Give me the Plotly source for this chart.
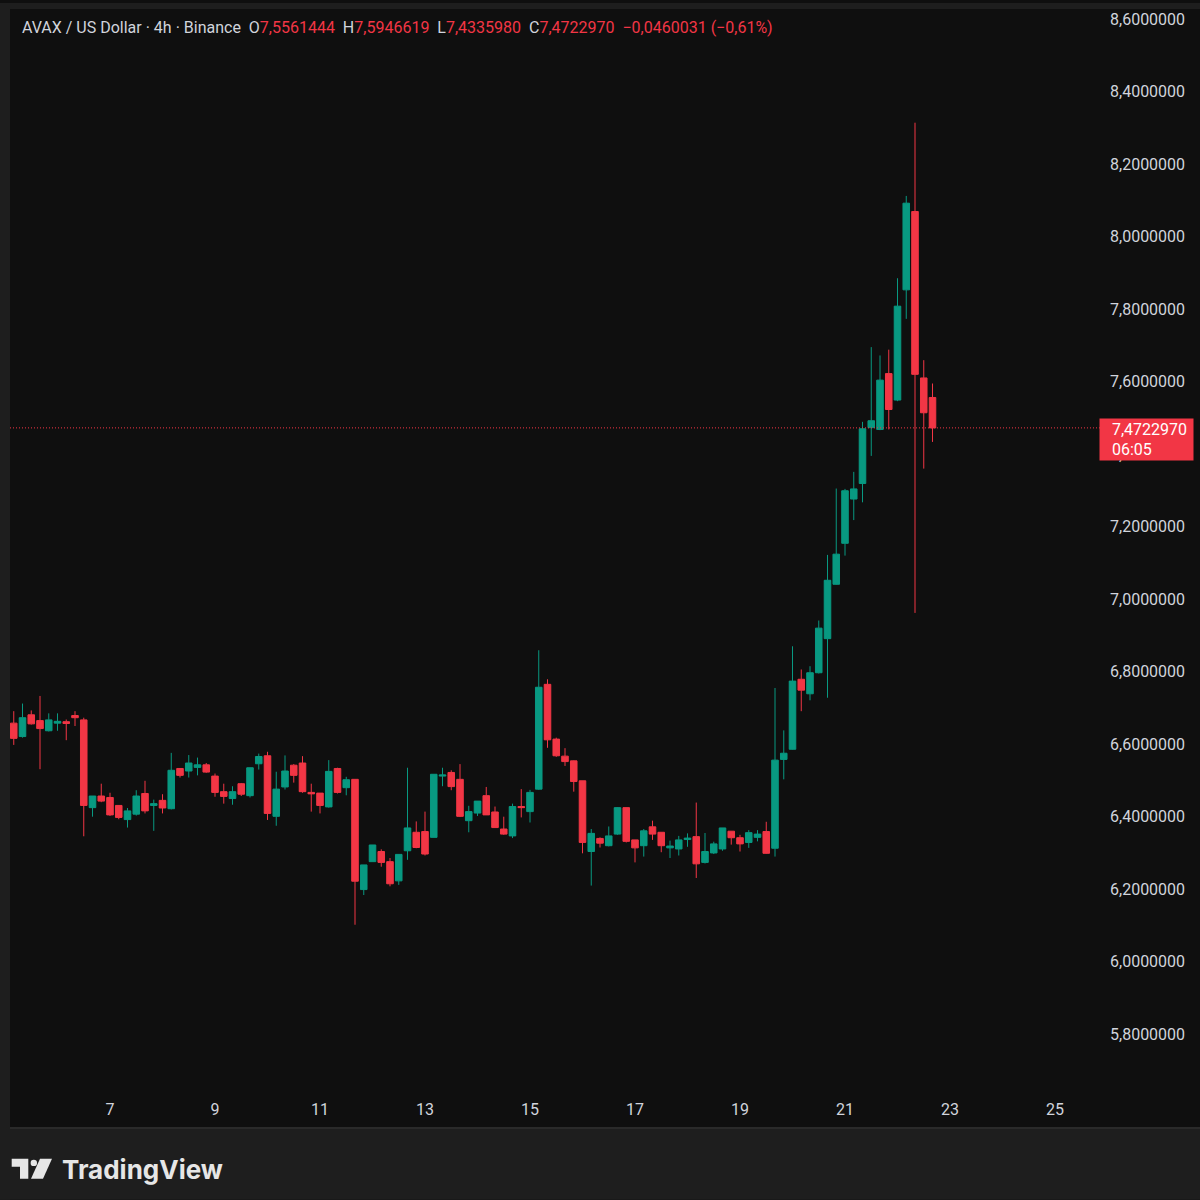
import plotly.graph_objects as go

# AVAX / USD, 4h candles (day-of-month scale)
opens = [6.658, 6.621, 6.681, 6.665, 6.637, 6.658, 6.662, 6.679, 6.667, 6.425,
         6.457, 6.453, 6.431, 6.392, 6.407, 6.464, 6.431, 6.445, 6.422, 6.533,
         6.526, 6.536, 6.543, 6.512, 6.469, 6.450, 6.491, 6.458, 6.546, 6.568,
         6.401, 6.482, 6.542, 6.548, 6.467, 6.465, 6.427, 6.533, 6.480, 6.503,
         6.199, 6.276, 6.304, 6.276, 6.223, 6.306, 6.357, 6.359, 6.343, 6.512,
         6.522, 6.503, 6.389, 6.410, 6.458, 6.413, 6.366, 6.347, 6.428, 6.414,
         6.476, 6.765, 6.614, 6.567, 6.554, 6.499, 6.304, 6.340, 6.320, 6.352,
         6.425, 6.336, 6.320, 6.372, 6.357, 6.314, 6.311, 6.337, 6.345, 6.274,
         6.300, 6.311, 6.360, 6.342, 6.329, 6.343, 6.359, 6.313, 6.558, 6.586,
         6.779, 6.739, 6.797, 6.891, 7.041, 7.154, 7.276, 7.319, 7.473, 7.468,
         7.622, 7.549, 7.853, 8.069, 7.610, 7.5561444]
highs = [6.691, 6.712, 6.693, 6.733, 6.685, 6.685, 6.668, 6.691, 6.673, 6.457,
         6.491, 6.466, 6.431, 6.424, 6.473, 6.499, 6.447, 6.462, 6.576, 6.533,
         6.570, 6.563, 6.548, 6.519, 6.491, 6.484, 6.493, 6.535, 6.574, 6.579,
         6.524, 6.569, 6.545, 6.567, 6.491, 6.465, 6.556, 6.535, 6.510, 6.503,
         6.267, 6.322, 6.310, 6.286, 6.296, 6.535, 6.387, 6.414, 6.517, 6.535,
         6.528, 6.545, 6.430, 6.443, 6.482, 6.428, 6.400, 6.436, 6.476, 6.474,
         6.859, 6.779, 6.618, 6.589, 6.555, 6.499, 6.366, 6.343, 6.373, 6.426,
         6.425, 6.336, 6.366, 6.389, 6.357, 6.334, 6.347, 6.354, 6.439, 6.355,
         6.331, 6.369, 6.360, 6.350, 6.363, 6.363, 6.386, 6.755, 6.638, 6.870,
         6.806, 6.815, 6.941, 7.122, 7.305, 7.304, 7.351, 7.489, 7.695, 7.672,
         7.688, 7.885, 8.112, 8.314, 7.659, 7.5946619]
lows = [6.598, 6.618, 6.654, 6.531, 6.635, 6.637, 6.611, 6.650, 6.346, 6.400,
        6.440, 6.402, 6.393, 6.370, 6.403, 6.409, 6.361, 6.409, 6.420, 6.508,
        6.508, 6.514, 6.521, 6.455, 6.436, 6.433, 6.457, 6.453, 6.530, 6.391,
        6.375, 6.475, 6.494, 6.466, 6.414, 6.409, 6.425, 6.464, 6.459, 6.102,
        6.184, 6.276, 6.262, 6.208, 6.212, 6.281, 6.313, 6.293, 6.343, 6.484,
        6.473, 6.399, 6.357, 6.402, 6.405, 6.370, 6.350, 6.341, 6.398, 6.384,
        6.474, 6.590, 6.565, 6.540, 6.469, 6.299, 6.210, 6.315, 6.318, 6.350,
        6.329, 6.274, 6.290, 6.336, 6.302, 6.286, 6.293, 6.317, 6.231, 6.271,
        6.297, 6.306, 6.323, 6.304, 6.314, 6.332, 6.298, 6.290, 6.503, 6.585,
        6.691, 6.721, 6.795, 6.728, 7.040, 7.120, 7.218, 7.267, 7.395, 7.466,
        7.468, 7.546, 7.773, 6.962, 7.360, 7.4335980]
closes = [6.616, 6.673, 6.656, 6.643, 6.667, 6.663, 6.657, 6.673, 6.431, 6.457,
          6.443, 6.405, 6.398, 6.416, 6.457, 6.416, 6.436, 6.424, 6.528, 6.514,
          6.548, 6.543, 6.523, 6.467, 6.456, 6.469, 6.462, 6.535, 6.566, 6.409,
          6.476, 6.526, 6.514, 6.469, 6.463, 6.431, 6.525, 6.467, 6.502, 6.222,
          6.267, 6.322, 6.274, 6.215, 6.296, 6.369, 6.315, 6.297, 6.517, 6.515,
          6.483, 6.401, 6.414, 6.443, 6.405, 6.370, 6.352, 6.428, 6.425, 6.467,
          6.757, 6.612, 6.568, 6.552, 6.497, 6.329, 6.354, 6.327, 6.347, 6.425,
          6.332, 6.314, 6.361, 6.352, 6.320, 6.319, 6.336, 6.341, 6.270, 6.304,
          6.325, 6.369, 6.342, 6.325, 6.356, 6.352, 6.299, 6.556, 6.575, 6.774,
          6.749, 6.797, 6.920, 7.052, 7.124, 7.299, 7.304, 7.470, 7.492, 7.604,
          7.523, 7.808, 8.092, 7.620, 7.514, 7.4722970]

# bar open times in days (first bar: day 5, 04:00, then every 4 hours)
first_bar = 5 + 4 / 24
times = [first_bar + i * 4 / 24 for i in range(len(opens))]

day_ticks = [7, 9, 11, 13, 15, 17, 19, 21, 23, 25]
price_ticks = [5.8, 6.0, 6.2, 6.4, 6.6, 6.8, 7.0, 7.2, 7.4, 7.6, 7.8, 8.0, 8.2, 8.4, 8.6]

last_change = -0.0460031
last_change_pct = -0.61
countdown = "06:05"

UP = "#089981"
DOWN = "#f23645"
TXT = "#d1d4dc"
BG = "#0f0f0f"
FRAME = "#1e1e1e"
FONT = "Roboto"


# pixel -> paper helpers (plot area: x 10..1090, y 10..1095)
def px(x):
    return (x - 10) / 1080


def py(y):
    return (1095 - y) / 1085


def fmt(v):
    return f"{v:.7f}".replace(".", ",").replace("-", "\u2212")


fig = go.Figure(go.Candlestick(
    x=times, open=opens, high=highs, low=lows, close=closes,
    increasing=dict(line=dict(color=UP, width=1), fillcolor=UP),
    decreasing=dict(line=dict(color=DOWN, width=1), fillcolor=DOWN),
    whiskerwidth=0, hoverinfo="skip",
))

# frame around the chart panel + logo
shapes = [
    dict(type="rect", xref="paper", yref="paper", x0=px(0), x1=px(10), y0=py(1200), y1=py(0),
         fillcolor=FRAME, line_width=0),
    dict(type="rect", xref="paper", yref="paper", x0=px(0), x1=px(1200), y0=py(6), y1=py(0),
         fillcolor=FRAME, line_width=0),
    dict(type="rect", xref="paper", yref="paper", x0=px(0), x1=px(1200), y0=py(1200), y1=py(1128),
         fillcolor=FRAME, line_width=0),
    dict(type="line", xref="paper", yref="paper", x0=px(10), x1=px(1200), y0=py(1128), y1=py(1128),
         line=dict(color="#2a2a2a", width=2)),
    # price line
    dict(type="line", xref="paper", yref="y", x0=0, x1=px(1100),
         y0=closes[-1], y1=closes[-1], line=dict(color=DOWN, width=1, dash="1px,2px")),
    # TradingView mark
    dict(type="path", xref="paper", yref="paper", fillcolor="#e6e6e6", line_width=0,
         path=f"M{px(11.7)},{py(1159)} L{px(28.3)},{py(1159)} L{px(28.3)},{py(1179)} "
              f"L{px(20)},{py(1179)} L{px(20)},{py(1167)} L{px(11.7)},{py(1167)} Z"),
    dict(type="circle", xref="paper", yref="paper", fillcolor="#e6e6e6", line_width=0,
         x0=px(30.6), x1=px(37), y0=py(1166.3), y1=py(1159.9)),
    dict(type="path", xref="paper", yref="paper", fillcolor="#e6e6e6", line_width=0,
         path=f"M{px(40)},{py(1159)} L{px(52)},{py(1159)} L{px(43)},{py(1179)} "
              f"L{px(31)},{py(1179)} Z"),
]

sep = "\u00a0\u00a0"
red = lambda s: f"<span style='color:{DOWN}'>{s}</span>"
header = (
    f"AVAX / US Dollar \u00b7 4h \u00b7 Binance{sep}"
    f"O{red(fmt(opens[-1]))}{sep}H{red(fmt(highs[-1]))}{sep}"
    f"L{red(fmt(lows[-1]))}{sep}C{red(fmt(closes[-1]))}{sep}"
    + red(f"{fmt(last_change)} ({last_change_pct:.2f}%)".replace(".", ",").replace("-", "\u2212"))
)

annotations = [
    dict(xref="paper", yref="paper", x=px(20), y=py(25), xanchor="left", yanchor="middle",
         text=header, showarrow=False, font=dict(family=FONT, size=16, color=TXT)),
    dict(xref="paper", yref="paper", x=px(1099), y=py(416), xanchor="left", yanchor="top",
         text=f"\u00a0\u00a0\u00a0{fmt(closes[-1])}<br>\u00a0\u00a0\u00a0{countdown}",
         showarrow=False, align="left", valign="middle",
         bgcolor=DOWN, borderpad=0, width=93, height=41,
         font=dict(family=FONT, size=16, color="#ffffff")),
    dict(xref="paper", yref="paper", x=px(60), y=py(1170), xanchor="left", yanchor="middle",
         text="<b>TradingView</b>", showarrow=False,
         font=dict(family="Inter", size=26, color="#e6e6e6")),
]

fig.update_layout(
    width=1200, height=1200,
    margin=dict(l=10, r=110, t=10, b=105),
    paper_bgcolor=BG, plot_bgcolor=BG,
    separators=", ",
    showlegend=False,
    boxgap=0.25, boxgroupgap=0,
    shapes=shapes, annotations=annotations,
    xaxis=dict(range=[7 - 100 / 52.5, 7 + 980 / 52.5], rangeslider=dict(visible=False),
               tickvals=day_ticks, ticktext=[str(d) for d in day_ticks],
               showgrid=False, zeroline=False, showline=False, ticks="",
               ticklabelstandoff=3,
               tickfont=dict(family=FONT, size=16, color=TXT)),
    yaxis=dict(range=[8.6 - 1085 / 363.6 + 6 / 363.6, 8.6 + 6 / 363.6], side="right",
               tickvals=price_ticks, tickformat=".7f",
               showgrid=False, zeroline=False, showline=False, ticks="",
               ticklabelstandoff=19,
               tickfont=dict(family=FONT, size=16, color=TXT)),
)

# drop the page's default body margin so the figure sits at the window corner
fig.write_html("out.html", config={"displayModeBar": False}, post_script=(
    "document.body.style.margin='0';"
    f"document.body.style.background='{FRAME}';"
))
